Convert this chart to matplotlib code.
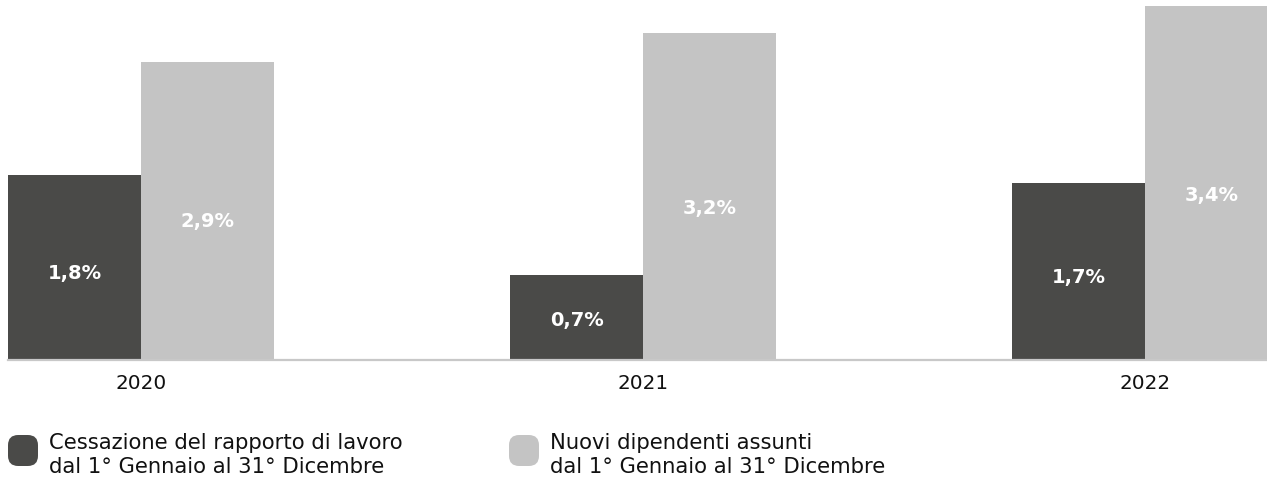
import matplotlib
matplotlib.use("Agg")
import matplotlib.pyplot as plt
from matplotlib.patches import FancyBboxPatch
import numpy as np

# dati
anni = ["2020", "2021", "2022"]
cessazioni = [1.78, 0.82, 1.70]        # altezza barre
nuovi_assunti = [2.87, 3.14, 3.40]
etichette_cess = ["1,8%", "0,7%", "1,7%"]
etichette_nuovi = ["2,9%", "3,2%", "3,4%"]
legenda = ["Cessazione del rapporto di lavoro\ndal 1° Gennaio al 31° Dicembre",
           "Nuovi dipendenti assunti\ndal 1° Gennaio al 31° Dicembre"]

scuro = "#4a4a48"
chiaro = "#c4c4c4"
font = ["DejaVu Sans"]

W, H = 1267, 479
fig = plt.figure(figsize=(W / 100, H / 100), dpi=100)
fig.patch.set_facecolor("white")

# area del grafico (pixel -> frazioni)
ax = fig.add_axes([8 / W, (H - 360) / H, (W - 8) / W, 360 / H])
ax.set_facecolor("white")

x = np.arange(len(anni))
w = 0.265
b1 = ax.bar(x - w / 2, cessazioni, w, color=scuro)
b2 = ax.bar(x + w / 2, nuovi_assunti, w, color=chiaro)

for barre, testi in ((b1, etichette_cess), (b2, etichette_nuovi)):
    for r, t in zip(barre, testi):
        ax.text(r.get_x() + r.get_width() / 2, r.get_height() * 0.465, t,
                ha="center", va="center", color="white", fontsize=14,
                fontweight="bold", family=font)

ax.set_xlim(-w, (W - 141) / 502)
ax.set_ylim(0, 360 / 104)

for s in ["top", "right", "left"]:
    ax.spines[s].set_visible(False)
ax.spines["bottom"].set_color("#c8c8c8")
ax.spines["bottom"].set_linewidth(1.6)
ax.set_yticks([])
ax.set_xticks(x)
ax.set_xticklabels(anni, fontsize=14.4, family=font, color="#111111")
ax.tick_params(axis="x", length=0, pad=10)

# legenda manuale
for px, col, testo in ((8, scuro, legenda[0]), (509, chiaro, legenda[1])):
    box = FancyBboxPatch((px / W, (H - 466) / H), 30 / W, 31 / H,
                         boxstyle="round,pad=0,rounding_size=0.008",
                         transform=fig.transFigure, facecolor=col,
                         edgecolor="none", mutation_aspect=W / H)
    fig.add_artist(box)
    fig.text((px + 41) / W, (H - 455) / H, testo, ha="left", va="center",
             fontsize=15.2, family=font, color="#111111", linespacing=1.25)

fig.savefig("out.png", dpi=100)
